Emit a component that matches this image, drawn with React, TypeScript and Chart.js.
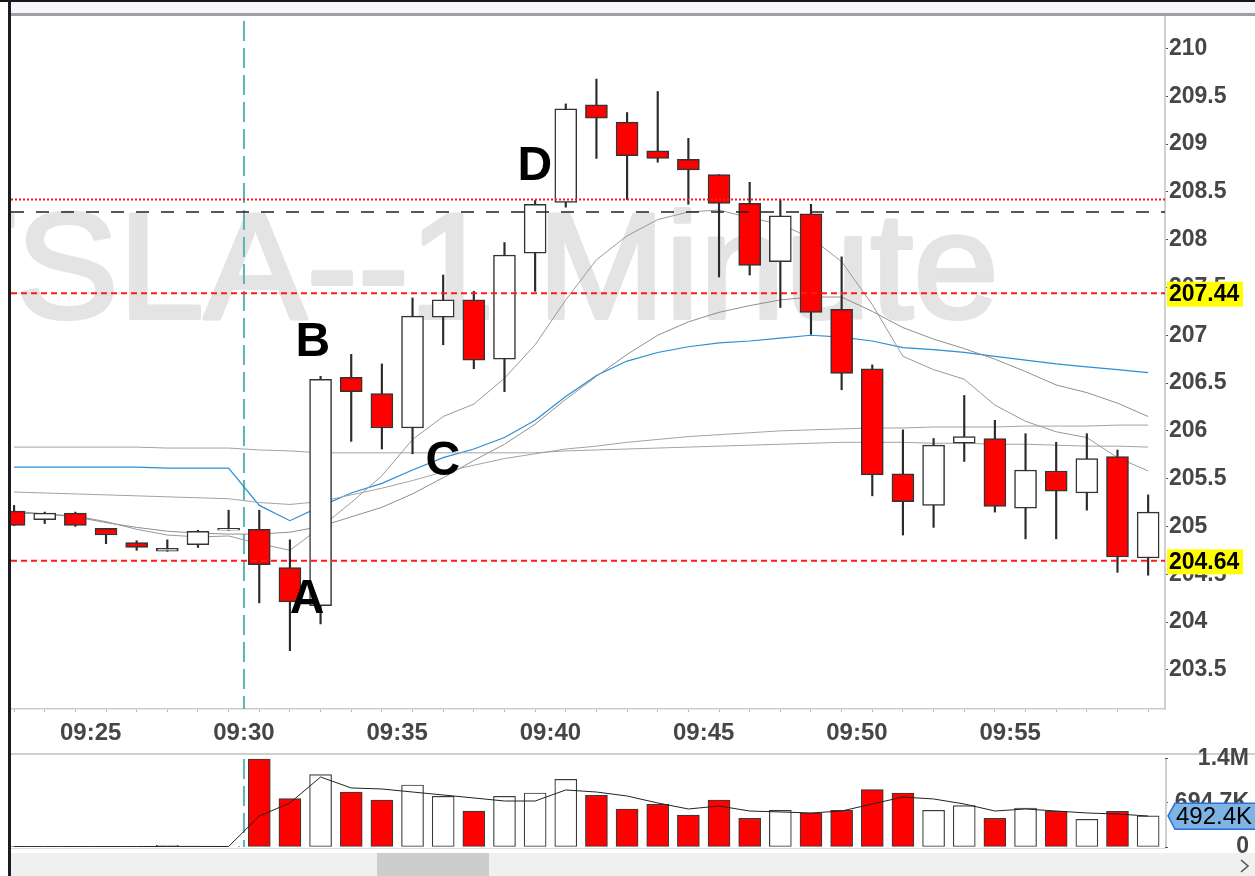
import React, { useEffect, useRef } from "react";
import { Chart, registerables } from "chart.js";

Chart.register(...registerables);
const FONT = "'Liberation Sans', Arial, sans-serif";
Chart.defaults.font.family = FONT;

// ---------------- data ----------------
const times = [
  "09:22", "09:23", "09:24", "09:25", "09:26", "09:27", "09:28", "09:29",
  "09:30", "09:31", "09:32", "09:33", "09:34", "09:35", "09:36", "09:37", "09:38", "09:39",
  "09:40", "09:41", "09:42", "09:43", "09:44", "09:45", "09:46", "09:47", "09:48", "09:49",
  "09:50", "09:51", "09:52", "09:53", "09:54", "09:55", "09:56", "09:57", "09:58", "09:59",
];
const opens = [
  205.16, 205.07, 205.14, 204.98, 204.83, 204.74, 204.81, 204.96,
  204.97, 204.57, 204.17, 206.56, 206.39, 206.03, 207.19, 207.37, 206.75, 207.86,
  208.39, 209.41, 209.23, 208.93, 208.84, 208.68, 208.38, 207.77, 208.27, 207.27,
  206.65, 205.55, 205.22, 205.87, 205.92, 205.19, 205.58, 205.35, 205.73, 204.67,
];
const highs = [
  205.22, 205.15, 205.15, 204.98, 204.85, 204.86, 204.96, 205.17,
  205.17, 204.86, 206.57, 206.8, 206.7, 207.39, 207.63, 207.46, 207.97, 208.41,
  209.42, 209.68, 209.33, 209.55, 209.06, 208.68, 208.6, 208.42, 208.37, 207.82,
  206.69, 206.01, 205.92, 206.37, 206.11, 205.97, 205.88, 205.97, 205.8, 205.33,
];
const lows = [
  205.01, 205.03, 205.0, 204.82, 204.75, 204.74, 204.78, 204.96,
  204.2, 203.7, 203.98, 205.89, 205.81, 205.76, 206.9, 206.65, 206.41, 207.46,
  208.34, 208.85, 208.42, 208.81, 208.37, 207.61, 207.63, 207.29, 207.01, 206.43,
  205.32, 204.91, 204.99, 205.68, 205.15, 204.87, 204.87, 205.17, 204.52, 204.49,
];
const closes = [
  205.01, 205.14, 205.01, 204.91, 204.78, 204.77, 204.95, 204.98,
  204.6, 204.21, 206.54, 206.41, 206.03, 207.2, 207.37, 206.74, 207.84, 208.37,
  209.37, 209.27, 208.88, 208.85, 208.73, 208.38, 207.73, 208.25, 207.24, 206.6,
  205.54, 205.26, 205.85, 205.94, 205.21, 205.59, 205.37, 205.71, 204.68, 205.15,
];
const volumes = [
  9000, 7000, 5000, 6000, 8000, 26000, 7000, 5000,
  1389400, 762600, 1141500, 868400, 742000, 979000, 800000, 568000, 800000, 852600,
  1069000, 816000, 600000, 674000, 505000, 742000, 453000, 579000, 537000, 579000,
  905000, 853000, 579000, 652000, 453000, 616000, 564000, 437000, 564000, 492400,
];
const volumeAvg = [
  6000, 6000, 6000, 6000, 7000, 9000, 9000, 8000,
  489000, 695000, 1105000, 932000, 916000, 868000, 821000, 774000, 726000, 726000,
  900000, 868000, 805000, 695000, 600000, 647000, 568000, 553000, 537000, 568000,
  679000, 789000, 758000, 679000, 568000, 600000, 568000, 537000, 521000, 489000,
];
const vwapLine = [
  205.62, 205.62, 205.62, 205.62, 205.62, 205.61, 205.61, 205.61,
  205.22, 205.06, 205.21, 205.35, 205.45, 205.59, 205.72, 205.81, 205.93, 206.11,
  206.36, 206.58, 206.73, 206.82, 206.88, 206.92, 206.94, 206.97, 207.0, 206.98,
  206.94, 206.87, 206.85, 206.82, 206.78, 206.74, 206.7, 206.67, 206.64, 206.61,
];
const maFast = [
  205.14, 205.13, 205.11, 205.05, 204.97, 204.91, 204.89, 204.9,
  204.82, 204.75, 204.99, 205.25, 205.53, 205.91, 206.15, 206.28, 206.55, 206.9,
  207.37, 207.79, 208.04, 208.21, 208.29, 208.31, 208.23, 208.16, 208.02, 207.77,
  207.32, 206.78, 206.64, 206.54, 206.27, 206.1, 205.99, 205.93, 205.72, 205.58,
];
const maMid = [
  205.16, 205.13, 205.1, 205.04, 204.99, 204.95, 204.93, 204.92,
  204.92, 204.94, 205.0, 205.1, 205.2, 205.34, 205.51, 205.69, 205.86, 206.07,
  206.33, 206.57, 206.8, 207.0, 207.14, 207.24, 207.31, 207.37, 207.4, 207.4,
  207.25, 207.08, 206.96, 206.86, 206.75, 206.62, 206.48, 206.4, 206.29, 206.15,
];
const maSlow = [
  205.36, 205.35, 205.34, 205.33, 205.32, 205.31, 205.3, 205.29,
  205.25, 205.23, 205.26, 205.33, 205.4, 205.48, 205.57, 205.64, 205.71, 205.76,
  205.81, 205.84, 205.88, 205.91, 205.94, 205.96, 205.98, 206.0, 206.01, 206.02,
  206.03, 206.03, 206.04, 206.04, 206.04, 206.05, 206.05, 206.05, 206.06, 206.06,
];
const maFlat = [
  205.83, 205.83, 205.83, 205.83, 205.83, 205.82, 205.82, 205.82,
  205.8, 205.79, 205.77, 205.77, 205.77, 205.77, 205.77, 205.77, 205.77, 205.77,
  205.79, 205.8, 205.81, 205.82, 205.83, 205.84, 205.85, 205.86, 205.87, 205.88,
  205.88, 205.88, 205.87, 205.87, 205.86, 205.86, 205.85, 205.84, 205.84, 205.83,
];
const priceTicks = [203.5, 204, 204.5, 205, 205.5, 206, 206.5, 207, 207.5, 208, 208.5, 209, 209.5, 210];
const volumeTicks = [0, 694700, 1389400];
const timeTickLabels = ["09:25", "09:30", "09:35", "09:40", "09:45", "09:50", "09:55"];
const sessionOpen = "09:30";
const dottedLevel = 208.42;
const dashedLevel = 208.29;
const markedLevels = [207.44, 204.64];
const noteLetters = ["A", "B", "C", "D"];
const noteTimes = [32.06, 32.25, 36.49, 39.49];
const notePrices = [204.27, 206.96, 205.72, 208.8];
const watermarkText = "TSLA--1 Minute";

// ---------------- helpers ----------------
const X_MIN = 22.4;
const X_MAX = 60.05;
const minuteOf = (t: string) => {
  const [h, m] = t.split(":").map(Number);
  return (h - 9) * 60 + m;
};
const barX = times.map((t) => minuteOf(t) + 0.5);
const isDown = closes.map((c, i) => c < opens[i]);
const fmtVol = (v: number) =>
  v >= 1e6 ? (v / 1e6).toFixed(1) + "M" : v >= 1e3 ? (v / 1e3).toFixed(1) + "K" : String(v);
const fmtTime = (m: number) =>
  `${String(9 + Math.floor(m / 60)).padStart(2, "0")}:${String(m % 60).padStart(2, "0")}`;
const minuteTicks: number[] = [];
for (let m = Math.ceil(X_MIN); m <= Math.floor(X_MAX); m++) minuteTicks.push(m);

function hLine(ctx: CanvasRenderingContext2D, x0: number, x1: number, y: number, color: string, w: number, dash: number[]) {
  ctx.save();
  ctx.strokeStyle = color;
  ctx.lineWidth = w;
  ctx.setLineDash(dash);
  ctx.beginPath();
  ctx.moveTo(x0, y);
  ctx.lineTo(x1, y);
  ctx.stroke();
  ctx.restore();
}
function vLine(ctx: CanvasRenderingContext2D, x: number, y0: number, y1: number, color: string, w: number, dash: number[]) {
  ctx.save();
  ctx.strokeStyle = color;
  ctx.lineWidth = w;
  ctx.setLineDash(dash);
  ctx.beginPath();
  ctx.moveTo(x, y0);
  ctx.lineTo(x, y1);
  ctx.stroke();
  ctx.restore();
}

const TEAL = "#5fb4b1";

const priceOverlay = {
  id: "priceOverlay",
  beforeDatasetsDraw(chart: any) {
    const { ctx, chartArea: a, scales } = chart;
    ctx.save();
    ctx.beginPath();
    ctx.rect(a.left, a.top, a.right - a.left, a.bottom - a.top);
    ctx.clip();
    ctx.font = `150px ${FONT}`;
    ctx.fillStyle = "#e4e4e4";
    ctx.strokeStyle = "#e4e4e4";
    ctx.lineWidth = 4;
    ctx.lineJoin = "round";
    ctx.textBaseline = "alphabetic";
    const tW = ctx.measureText("T").width;
    ctx.translate(a.left + 5, a.top + 302);
    ctx.scale(1.025, 1);
    ctx.fillText(watermarkText, -tW, 0);
    ctx.strokeText(watermarkText, -tW, 0);
    ctx.restore();
    const sx = scales.x.getPixelForValue(minuteOf(sessionOpen));
    vLine(ctx, sx, a.top + 5, a.bottom, TEAL, 2, [20, 7]);
  },
  afterDatasetsDraw(chart: any) {
    const { ctx, chartArea: a, scales } = chart;
    const y = scales.y;
    hLine(ctx, a.left, a.right, y.getPixelForValue(dottedLevel), "#ff1a1a", 2, [2, 2]);
    hLine(ctx, a.left, a.right, y.getPixelForValue(dashedLevel), "#222", 1.5, [13, 12]);
    markedLevels.forEach((v) => hLine(ctx, a.left, a.right, y.getPixelForValue(v), "#ff1a1a", 2, [6, 4]));
    ctx.save();
    ctx.font = `bold 48px ${FONT}`;
    ctx.fillStyle = "#000";
    ctx.textAlign = "center";
    ctx.textBaseline = "alphabetic";
    noteLetters.forEach((l, i) => {
      ctx.fillText(l, scales.x.getPixelForValue(noteTimes[i]), y.getPixelForValue(notePrices[i]) + 17);
    });
    ctx.restore();
  },
  afterDraw(chart: any) {
    const { ctx, chartArea: a, scales } = chart;
    ctx.save();
    ctx.font = `bold 23px ${FONT}`;
    ctx.textBaseline = "middle";
    ctx.textAlign = "left";
    markedLevels.forEach((v) => {
      const py = scales.y.getPixelForValue(v);
      ctx.fillStyle = "#ffff00";
      ctx.fillRect(a.right + 2, py - 11.5, 76, 25);
      ctx.fillStyle = "#000";
      ctx.fillText(v.toFixed(2), a.right + 4, py + 1.5);
    });
    ctx.restore();
  },
};

const volumeOverlay = {
  id: "volumeOverlay",
  beforeDatasetsDraw(chart: any) {
    const { ctx, chartArea: a, scales } = chart;
    const sx = scales.x.getPixelForValue(minuteOf(sessionOpen));
    vLine(ctx, sx, a.top + 5, a.bottom, TEAL, 2, [20, 7]);
    const yTop = scales.y.getPixelForValue(volumeTicks[volumeTicks.length - 1]);
    const yBot = scales.y.getPixelForValue(0);
    vLine(ctx, a.right + 1, yTop, yBot, "#cfcfcf", 2, []);
  },
  afterDraw(chart: any) {
    const { ctx, chartArea: a, scales, width } = chart;
    const last = volumes[volumes.length - 1];
    const vy = scales.y.getPixelForValue(last);
    ctx.save();
    ctx.beginPath();
    ctx.moveTo(a.right + 3, vy);
    ctx.lineTo(a.right + 10, vy - 12.5);
    ctx.lineTo(width + 2, vy - 12.5);
    ctx.lineTo(width + 2, vy + 13.5);
    ctx.lineTo(a.right + 10, vy + 13.5);
    ctx.closePath();
    ctx.fillStyle = "#7db4e4";
    ctx.fill();
    ctx.strokeStyle = "#2b6fd8";
    ctx.lineWidth = 1.5;
    ctx.stroke();
    ctx.fillStyle = "#000";
    ctx.font = `24px ${FONT}`;
    ctx.textBaseline = "middle";
    ctx.textAlign = "left";
    ctx.fillText(fmtVol(last), a.right + 11, vy + 1.5);
    ctx.restore();
  },
};

const lineDs = (values: number[], color: string, width: number) => ({
  type: "line" as const,
  data: barX.map((x, i) => ({ x, y: values[i] })),
  borderColor: color,
  borderWidth: width,
  pointRadius: 0,
  tension: 0,
  order: 20,
});

export default function App() {
  const priceRef = useRef<HTMLCanvasElement>(null);
  const volRef = useRef<HTMLCanvasElement>(null);

  useEffect(() => {
    const price = new Chart(priceRef.current as HTMLCanvasElement, {
      type: "bar",
      data: {
        datasets: [
          lineDs(maFlat, "#a3a3a3", 1),
          lineDs(maSlow, "#a3a3a3", 1),
          lineDs(maMid, "#8f8f8f", 1),
          lineDs(maFast, "#999999", 1),
          lineDs(vwapLine, "#2a8fd4", 1.2),
          {
            type: "bar",
            data: barX.map((x, i) => ({ x, y: [lows[i], highs[i]] })),
            backgroundColor: "#2b2b2b",
            barThickness: 1.5,
            grouped: false,
            order: 5,
          },
          {
            type: "bar",
            data: barX.map((x, i) => ({ x, y: [opens[i], closes[i]] })),
            backgroundColor: isDown.map((d) => (d ? "#ff0000" : "#ffffff")),
            borderColor: "#333333",
            borderWidth: 1.5,
            borderSkipped: false,
            barThickness: 22,
            grouped: false,
            order: 1,
          },
        ] as any,
      },
      options: {
        responsive: true,
        maintainAspectRatio: false,
        animation: false,
        events: [],
        layout: { padding: 0 },
        plugins: { legend: { display: false }, tooltip: { enabled: false } },
        scales: {
          x: {
            type: "linear",
            min: X_MIN,
            max: X_MAX,
            offset: false,
            grid: { display: true, drawOnChartArea: false, drawTicks: true, tickLength: 3, color: "#b5b5b5" },
            border: { display: true, color: "#cccccc", width: 1.5 },
            ticks: {
              autoSkip: false,
              maxRotation: 0,
              padding: 7,
              color: "#464646",
              font: { size: 24, weight: "bold" },
              callback: (v: any) => {
                const lbl = fmtTime(Math.round(Number(v)));
                return timeTickLabels.includes(lbl) ? lbl : "";
              },
            },
            afterBuildTicks: (s: any) => {
              s.ticks = minuteTicks.map((v) => ({ value: v }));
            },
            afterFit: (s: any) => {
              s.height = 44;
              s.paddingLeft = 0;
              s.paddingRight = 0;
            },
          },
          y: {
            type: "linear",
            position: "right",
            min: 203.09,
            max: 210.34,
            grid: { drawOnChartArea: false, tickLength: 3, color: "#555555" },
            border: { display: true, color: "#d0d0d0", width: 2 },
            ticks: {
              padding: 1,
              color: "#464646",
              font: { size: 23, weight: "bold" },
              callback: (v: any) => String(v),
            },
            afterBuildTicks: (s: any) => {
              s.ticks = priceTicks.map((v) => ({ value: v }));
            },
            afterFit: (s: any) => {
              s.width = 90;
              s.paddingTop = 0;
              s.paddingBottom = 0;
            },
          },
        },
      } as any,
      plugins: [priceOverlay],
    });

    const vol = new Chart(volRef.current as HTMLCanvasElement, {
      type: "bar",
      data: {
        datasets: [
          {
            type: "line",
            data: barX.map((x, i) => ({ x, y: volumeAvg[i] })),
            borderColor: "#222222",
            borderWidth: 1,
            pointRadius: 0,
            order: 1,
          },
          {
            type: "bar",
            data: barX.map((x, i) => ({ x, y: volumes[i] })),
            backgroundColor: isDown.map((d) => (d ? "#ff0000" : "#ffffff")),
            borderColor: "#3a3a3a",
            borderWidth: 1.2,
            borderSkipped: false,
            barThickness: 22,
            grouped: false,
            order: 5,
          },
        ] as any,
      },
      options: {
        responsive: true,
        maintainAspectRatio: false,
        animation: false,
        events: [],
        layout: { padding: { top: 14, bottom: 13, left: 0, right: 6 } },
        plugins: { legend: { display: false }, tooltip: { enabled: false } },
        scales: {
          x: { type: "linear", min: X_MIN, max: X_MAX, offset: false, display: false },
          y: {
            type: "linear",
            position: "right",
            min: 0,
            max: 1468000,
            grid: { drawOnChartArea: false, tickLength: 3, color: "#555555" },
            border: { display: false },
            ticks: {
              crossAlign: "far",
              padding: 2,
              color: "#464646",
              font: { size: 23, weight: "bold" },
              callback: (v: any) => fmtVol(Number(v)),
            },
            afterBuildTicks: (s: any) => {
              s.ticks = volumeTicks.map((v) => ({ value: v }));
            },
            afterFit: (s: any) => {
              s.width = 84;
              s.paddingTop = 0;
              s.paddingBottom = 0;
            },
          },
        },
      } as any,
      plugins: [volumeOverlay],
    });

    return () => {
      price.destroy();
      vol.destroy();
    };
  }, []);

  const abs = (l: number, t: number, w: number, h: number, bg?: string): React.CSSProperties => ({
    position: "absolute",
    left: l,
    top: t,
    width: w,
    height: h,
    background: bg,
  });

  return (
    <div style={{ ...abs(0, 0, 1255, 876, "#ffffff"), overflow: "hidden" }}>
      <div style={abs(0, 0, 1255, 2, "#15151c")} />
      <div style={abs(11, 2, 1244, 11, "#f4f6fb")} />
      <div style={abs(11, 13, 1244, 3, "#9f9f9f")} />
      <div style={abs(11, 16, 1244, 737)}>
        <canvas ref={priceRef} style={{ display: "block" }} />
      </div>
      <div style={abs(11, 753, 1244, 1.5, "#cfcfcf")} />
      <div style={abs(11, 740, 1244, 120)}>
        <canvas ref={volRef} style={{ display: "block" }} />
      </div>
      <div style={abs(11, 848, 1155, 1, "#dddddd")} />
      <div style={abs(11, 853, 1244, 23, "#f0f0f0")} />
      <div style={abs(377, 853, 112, 23, "#cdcdcd")} />
      <svg style={{ position: "absolute", left: 1238, top: 858, width: 14, height: 16 }}>
        <polyline points="3,2 10,8 3,14" fill="none" stroke="#555" strokeWidth="1.6" />
      </svg>
      <div style={abs(8, 0, 3, 876, "#1b1b22")} />
    </div>
  );
}
